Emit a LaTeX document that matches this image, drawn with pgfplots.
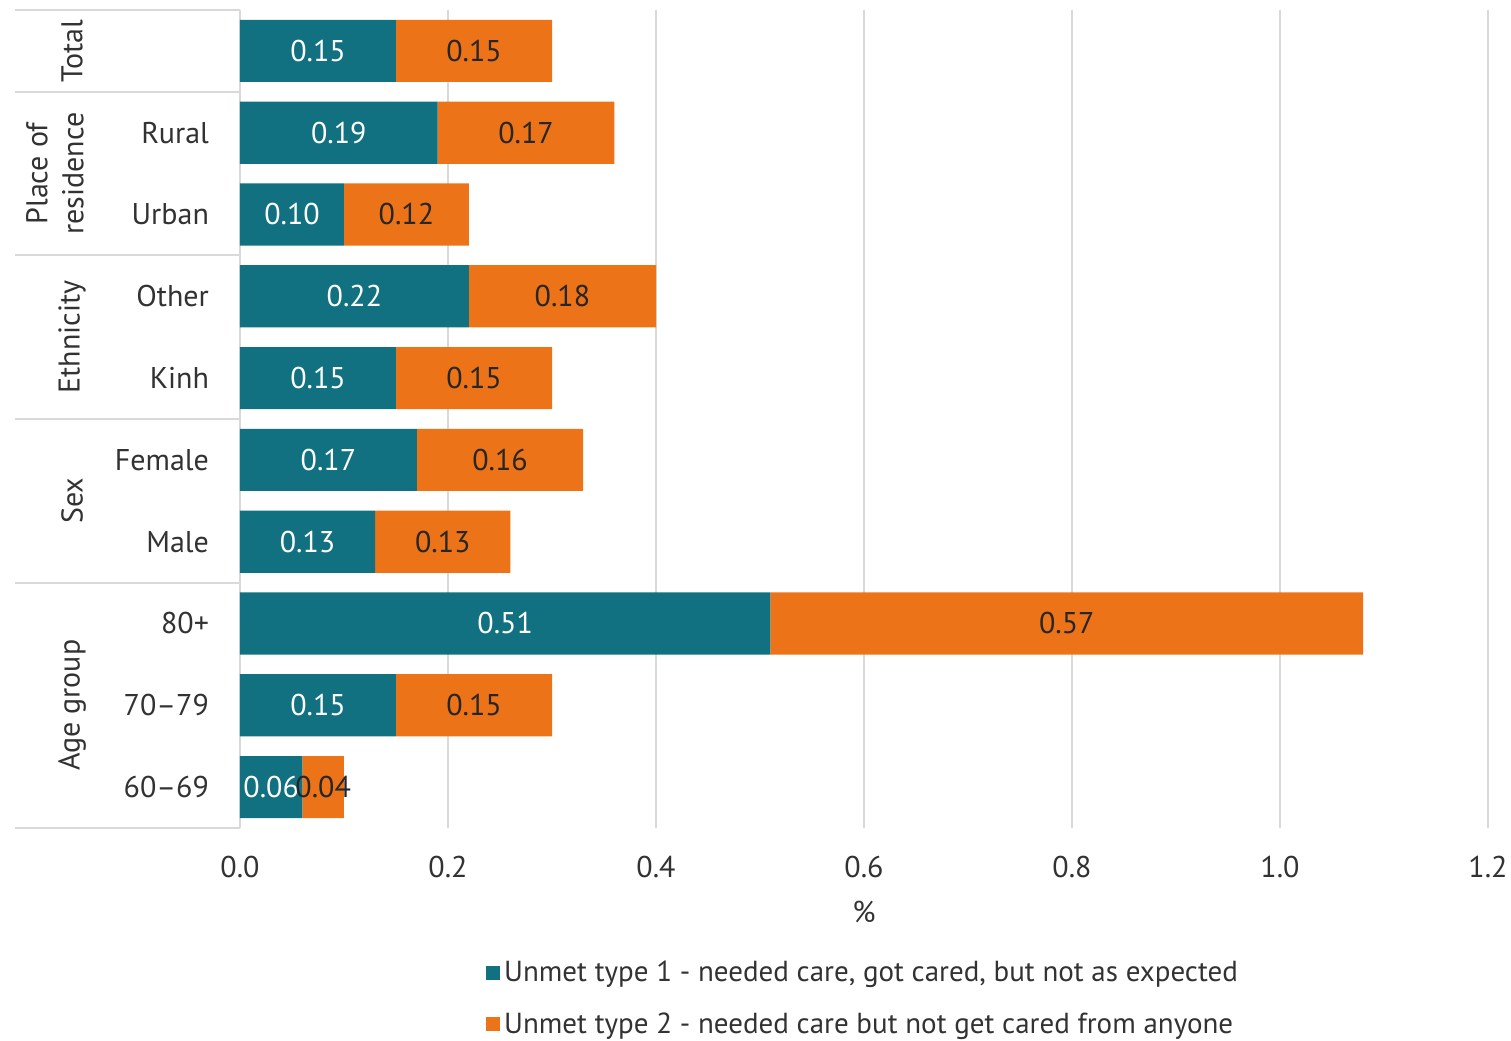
\documentclass[border=0pt]{standalone}
\usepackage{pgfplots}
\pgfplotsset{compat=1.18}
\usepackage{pgfplotstable}
\usepackage{fontspec}
\setmainfont{PT Sans}

\definecolor{tealbar}{RGB}{17,113,128}
\definecolor{orangebar}{RGB}{236,115,24}
\definecolor{gridgray}{RGB}{217,217,217}
\definecolor{textgray}{RGB}{50,50,50}

% row index, unmet type 1, unmet type 2
\pgfplotstableread{
row t1 t2
0 0.15 0.15
1 0.19 0.17
2 0.10 0.12
3 0.22 0.18
4 0.15 0.15
5 0.17 0.16
6 0.13 0.13
7 0.51 0.57
8 0.15 0.15
9 0.06 0.04
}\unmet

\pgfplotsset{
  base/.style={
    scale only axis, width=624pt, height=409pt,
    xmin=0, xmax=1.2, ymin=-0.5, ymax=9.5, y dir=reverse,
    /pgf/number format/assume math mode=true,
    font=\fontsize{15}{18}\selectfont,
  },
}

\begin{document}
\begin{tikzpicture}[font=\fontsize{15}{18}\selectfont]
\begin{axis}[base, name=main,
  xbar stacked, bar width=0.76,
  axis line style={draw=none}, tick style={draw=none},
  xmajorgrids, grid style={gridgray, line width=1pt},
  xtick={0,0.2,0.4,0.6,0.8,1.0,1.2},
  /pgf/number format/fixed, /pgf/number format/fixed zerofill,
  /pgf/number format/precision=1,
  xticklabel style={yshift=-10.5pt, text=textgray},
  ytick={0,1,2,3,4,5,6,7,8,9},
  yticklabels={{},Rural,Urban,Other,Kinh,Female,Male,80+,70--79,60--69},
  yticklabel style={xshift=-12pt, text=textgray},
  xlabel={\%},
  xlabel style={at={(axis description cs:0.5,-0.1027)}, anchor=center, text=textgray},
  legend style={at={(0.5,-0.152)}, anchor=north, draw=none, fill=none,
    legend cell align=left, row sep=10pt, text=textgray,
    font=\fontsize{14.5}{17}\selectfont},
  legend image code/.code={\draw[#1,/tikz/.cd,draw=none] (0pt,-3.5pt) rectangle (7pt,3.5pt);},
  clip=false,
]
\addplot[fill=tealbar, draw=none] table[x=t1, y=row] {\unmet};
\addlegendentry{Unmet type 1 - needed care, got cared, but not as expected}
\addplot[fill=orangebar, draw=none] table[x=t2, y=row] {\unmet};
\addlegendentry{Unmet type 2 - needed care but not get cared from anyone}

% group table rules on the left
\foreach \yy in {-0.5,0.5,2.5,4.5,6.5,9.5}{
  \edef\tmp{\noexpand\draw[gridgray, line width=1pt] (axis cs:-0.2163,\yy) -- (axis cs:0,\yy);}
  \tmp
}
\node[rotate=90, text=textgray] at (axis cs:-0.1615,0) {Total};
\node[rotate=90, align=center, text=textgray] at (axis cs:-0.178,1.5) {Place of\\residence};
\node[rotate=90, text=textgray] at (axis cs:-0.1615,3.5) {Ethnicity};
\node[rotate=90, text=textgray] at (axis cs:-0.1615,5.5) {Sex};
\node[rotate=90, text=textgray] at (axis cs:-0.1615,8) {Age group};
\end{axis}

% value labels centred in each segment
\begin{axis}[base, at={(main.south west)}, anchor=south west, hide axis, clip=false]
\addplot[draw=none, mark=none, point meta=explicit,
  nodes near coords={\pgfmathprintnumber[fixed,fixed zerofill,precision=2]{\pgfplotspointmeta}},
  every node near coord/.append style={anchor=center, text=white}]
  table[x expr=\thisrow{t1}/2, y=row, meta=t1] {\unmet};
\addplot[draw=none, mark=none, point meta=explicit,
  nodes near coords={\pgfmathprintnumber[fixed,fixed zerofill,precision=2]{\pgfplotspointmeta}},
  every node near coord/.append style={anchor=center, text=black!85}]
  table[x expr=\thisrow{t1}+\thisrow{t2}/2, y=row, meta=t2] {\unmet};
\end{axis}

\pgfresetboundingbox
\path[use as bounding box] ([shift={(-120pt,-106.5pt)}]main.south west) rectangle ([shift={(11.5pt,5pt)}]main.north east);
\end{tikzpicture}
\end{document}
